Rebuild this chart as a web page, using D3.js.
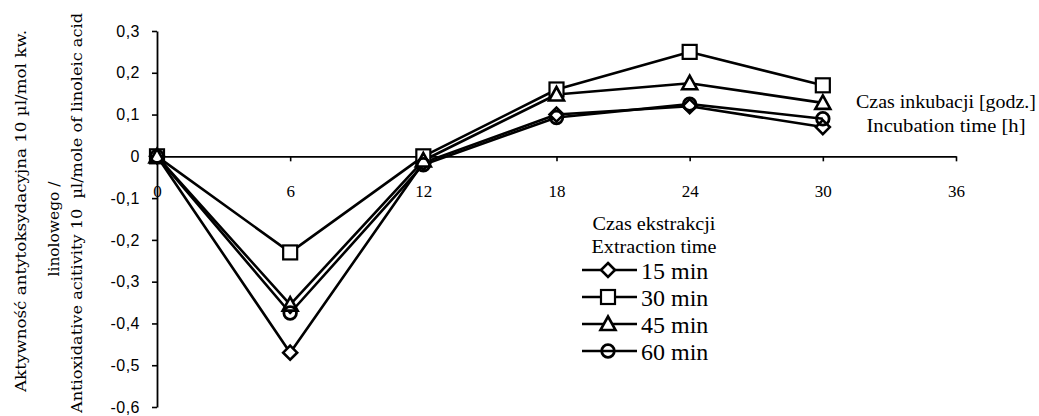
<!DOCTYPE html>
<html>
<head>
<meta charset="utf-8">
<script src="https://cdn.jsdelivr.net/npm/d3@7"></script>
<style>
  html, body { margin: 0; padding: 0; background: #fff; }
  svg { display: block; }
  text { fill: #000; }
</style>
</head>
<body>
<svg id="chart" width="1039" height="416"></svg>
<script>
// Incubation time [h]
const hours = [0, 6, 12, 18, 24, 30];

// Antioxidative activity per extraction time
const min15 = [0, -0.47, -0.015, 0.10, 0.12, 0.07];
const min30 = [0, -0.23, 0.0, 0.16, 0.25, 0.17];
const min45 = [0, -0.355, -0.01, 0.148, 0.175, 0.128];
const min60 = [0, -0.375, -0.02, 0.093, 0.125, 0.09];

const seriesNames = ["15 min", "30 min", "45 min", "60 min"];
const seriesSymbols = ["diamond", "square", "triangle", "circle"];

const xTicks = [0, 6, 12, 18, 24, 30, 36];
const xTickLabels = ["0", "6", "12", "18", "24", "30", "36"];
const yTicks = [0.3, 0.2, 0.1, 0, -0.1, -0.2, -0.3, -0.4, -0.5, -0.6];
const yTickLabels = ["0,3", "0,2", "0,1", "0", "-0,1", "-0,2", "-0,3", "-0,4", "-0,5", "-0,6"];

const SERIF = "'Liberation Serif', 'Times New Roman', serif";
const SLAB = "'DejaVu Serif', 'Liberation Serif', serif";
const SANS = "'Liberation Sans', Arial, sans-serif";

const series = [min15, min30, min45, min60].map((vals, i) => ({
  name: seriesNames[i],
  symbol: seriesSymbols[i],
  points: hours.map((h, j) => ({ x: h, y: vals[j] }))
}));

const svg = d3.select("#chart");
const x = d3.scaleLinear().domain([0, 36]).range([157, 956]);
const y = d3.scaleLinear().domain([-0.6, 0.3]).range([407, 31]);

// marker shapes
function marker(sel, type) {
  if (type === "diamond") {
    sel.append("path").attr("d", "M0,-7L7,0L0,7L-7,0Z")
      .attr("fill", "#fff").attr("stroke", "#000").attr("stroke-width", 2.6);
  } else if (type === "square") {
    sel.append("rect").attr("x", -7).attr("y", -7).attr("width", 14).attr("height", 14)
      .attr("fill", "#fff").attr("stroke", "#000").attr("stroke-width", 2.2);
  } else if (type === "triangle") {
    sel.append("path").attr("d", "M0,-7.5L7.5,6L-7.5,6Z")
      .attr("fill", "#fff").attr("stroke", "#000").attr("stroke-width", 2.6);
  } else {
    sel.append("circle").attr("r", 6.3)
      .attr("fill", "none").attr("stroke", "#000").attr("stroke-width", 2.8);
  }
}

// y axis
const yAxis = d3.axisLeft(y).tickValues(yTicks)
  .tickFormat((d, i) => yTickLabels[i]).tickSize(5).tickSizeOuter(0).tickPadding(12);
const gy = svg.append("g").attr("transform", "translate(157,0)").call(yAxis);
gy.select(".domain").attr("stroke", "#000").attr("stroke-width", 1.8);
gy.selectAll(".tick line").attr("stroke", "#000").attr("stroke-width", 1.6);
gy.selectAll(".tick text")
  .style("font-family", SANS).style("font-size", "16px")
  .attr("fill", "#000").attr("letter-spacing", 0.5);

// x axis at zero
const xAxis = d3.axisBottom(x).tickValues(xTicks)
  .tickFormat((d, i) => xTickLabels[i]).tickSize(5).tickSizeOuter(0).tickPadding(24);
const gx = svg.append("g").attr("transform", `translate(0,${y(0)})`).call(xAxis);
gx.select(".domain").attr("stroke", "#000").attr("stroke-width", 1.8);
gx.selectAll(".tick line").attr("stroke", "#000").attr("stroke-width", 1.6);
gx.selectAll(".tick text")
  .style("font-family", SERIF).style("font-size", "17px").attr("fill", "#000");

// series lines
const line = d3.line().x(d => x(d.x)).y(d => y(d.y));
svg.append("g").selectAll("path").data(series).join("path")
  .attr("d", d => line(d.points))
  .attr("fill", "none").attr("stroke", "#000").attr("stroke-width", 2.6)
  .attr("stroke-linejoin", "round");

// series markers
series.forEach(s => {
  svg.append("g").selectAll("g").data(s.points).join("g")
    .attr("transform", d => `translate(${x(d.x)},${y(d.y)})`)
    .each(function () { marker(d3.select(this), s.symbol); });
});

// y axis title
const yTitle = [
  { text: "Aktywność antytoksydacyjna 10 µl/mol kw.", bx: 26, cy: 211, len: 362 },
  { text: "linolowego /", bx: 59, cy: 229, len: 95 },
  { text: "Antioxidative acitivity 10  µl/mole of linoleic acid", bx: 82, cy: 213, len: 400 }
];
svg.append("g").selectAll("text").data(yTitle).join("text")
  .attr("transform", d => `translate(${d.bx},${d.cy}) rotate(-90)`)
  .attr("text-anchor", "middle")
  .style("font-family", SLAB).style("font-size", "15px")
  .attr("textLength", d => d.len).attr("lengthAdjust", "spacingAndGlyphs")
  .style("white-space", "pre")
  .text(d => d.text);

// x axis title
const xTitle = [
  { text: "Czas inkubacji [godz.]", cy: 108, len: 180 },
  { text: "Incubation time [h]", cy: 132, len: 159 }
];
svg.append("g").selectAll("text").data(xTitle).join("text")
  .attr("x", 946).attr("y", d => d.cy)
  .attr("text-anchor", "middle")
  .style("font-family", SERIF).style("font-size", "18px")
  .attr("textLength", d => d.len).attr("lengthAdjust", "spacingAndGlyphs")
  .text(d => d.text);

// legend
const legTitle = [
  { text: "Czas ekstrakcji", cy: 230, len: 123 },
  { text: "Extraction time", cy: 253, len: 125 }
];
svg.append("g").selectAll("text").data(legTitle).join("text")
  .attr("x", 654).attr("y", d => d.cy)
  .attr("text-anchor", "middle")
  .style("font-family", SERIF).style("font-size", "18px")
  .attr("textLength", d => d.len).attr("lengthAdjust", "spacingAndGlyphs")
  .text(d => d.text);

const legY = d3.scalePoint().domain(seriesNames).range([270, 351]);
const leg = svg.append("g").selectAll("g").data(series).join("g")
  .attr("transform", d => `translate(0,${legY(d.name)})`);
leg.append("line").attr("x1", 582).attr("x2", 637).attr("y1", 0).attr("y2", 0)
  .attr("stroke", "#000").attr("stroke-width", 2.4);
leg.each(function (d) {
  const g = d3.select(this).append("g").attr("transform", "translate(608,0)");
  marker(g, d.symbol);
});
leg.append("text").attr("x", 641).attr("y", 9)
  .style("font-family", SERIF).style("font-size", "24px")
  .text(d => d.name);
</script>
</body>
</html>
